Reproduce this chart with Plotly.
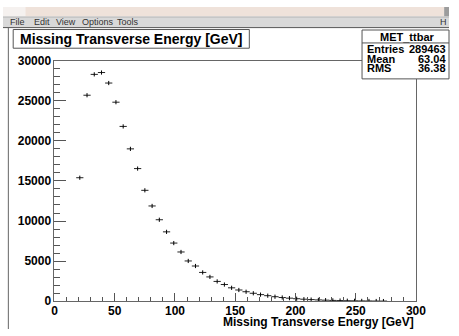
import plotly.graph_objects as go

# ---- data ----
bin_centers = [21, 27, 33, 39, 45, 51, 57, 63, 69, 75, 81, 87, 93, 99, 105, 111, 117, 123,
               129, 135, 141, 147, 153, 159, 165, 171, 177, 183, 189, 195, 201, 207, 213,
               219, 225, 231, 237, 243, 249, 255, 261, 267, 273]
counts = [15400, 25690, 28290, 28520, 27210, 24820, 21800, 19000, 16540, 13830, 11880,
          10160, 8650, 7250, 6140, 5020, 4390, 3590, 3030, 2470, 2080, 1670, 1400, 1180,
          990, 820, 690, 560, 460, 380, 310, 250, 200, 160, 130, 100, 80, 60, 48, 38, 30,
          22, 16]
half_width = [3] * len(bin_centers)
x_ticks = [0, 50, 100, 150, 200, 250, 300]
y_ticks = [0, 5000, 10000, 15000, 20000, 25000, 30000]
title_text = "Missing Transverse Energy [GeV]"
xaxis_title = "Missing Transverse Energy [GeV]"
stats_name = "MET_ttbar"
stats_rows = [("Entries", "289463"), ("Mean", "63.04"), ("RMS", "36.38")]
menu_items = [("File", 5), ("Edit", 30), ("View", 53), ("Options", 79), ("Tools", 115)]

W, H = 459, 336
FONT = "Liberation Sans, Arial, Helvetica, sans-serif"


def px(x):
    return min(max(x / W, 0), 1)


def py(y):
    return min(max(1 - y / H, 0), 1)


fig = go.Figure()
fig.add_trace(go.Scatter(
    x=bin_centers, y=counts, mode="markers",
    marker=dict(symbol="line-ns", size=3, color="black", line=dict(width=1, color="black")),
    error_x=dict(type="data", array=half_width, symmetric=True, width=0, thickness=1, color="#222222"),
    hoverinfo="x+y",
))


def rect(x0, y0, x1, y1, fill, line_color=None, lw=0):
    return dict(type="rect", xref="paper", yref="paper", x0=px(x0), x1=px(x1), y0=py(y1), y1=py(y0),
                fillcolor=fill, line=dict(width=lw, color=line_color or fill), layer="above")


def hline(x0, x1, y, color, lw=1):
    return dict(type="line", xref="paper", yref="paper", x0=px(x0), x1=px(x1), y0=py(y), y1=py(y),
                line=dict(width=lw, color=color), layer="above")


shapes = [
    rect(0, 0, 23, 10, "#f5f1ef"),
    rect(23, 0, 454, 10, "#efe2da"),
    rect(454, 0, 459, 10, "#9c9c9c"),
    rect(0, 10, 459, 21, "#d9d9d9"),
    hline(0, 459, 10.5, "#b8b8b8"),
    hline(0, 459, 21.5, "#555555"),
    dict(type="line", xref="paper", yref="paper", x0=px(5.5), x1=px(5.5), y0=py(336), y1=py(21.5),
         line=dict(width=1, color="#666666"), layer="above"),
    rect(10.5, 23.5, 253.5, 43, "white", "#555555", 1),
    rect(369.5, 24, 459, 75, "white", "#555555", 1),
    hline(369.5, 459, 37.5, "#555555"),
]

annotations = []
for name, x0 in menu_items:
    annotations.append(dict(xref="paper", yref="paper", x=px(x0), y=py(15.5), xanchor="left", yanchor="middle",
                            text=name, showarrow=False, font=dict(family=FONT, size=9, color="#333333")))
annotations.append(dict(xref="paper", yref="paper", x=px(459), y=py(15.5), xanchor="right", yanchor="middle",
                        text="H", showarrow=False, font=dict(family=FONT, size=9, color="#333333")))
annotations.append(dict(xref="paper", yref="paper", x=px(132), y=py(33), xanchor="center", yanchor="middle",
                        text="<b>" + title_text + "</b>", showarrow=False,
                        font=dict(family=FONT, size=14, color="black")))
annotations.append(dict(xref="paper", yref="paper", x=px(416), y=py(31), xanchor="center", yanchor="middle",
                        text="<b>" + stats_name + "</b>", showarrow=False,
                        font=dict(family=FONT, size=11, color="black")))
row_y = [44, 54, 63.5]
for (lab, val), yy in zip(stats_rows, row_y):
    annotations.append(dict(xref="paper", yref="paper", x=px(373), y=py(yy), xanchor="left", yanchor="middle",
                            text="<b>" + lab + "</b>", showarrow=False,
                            font=dict(family=FONT, size=11, color="black")))
    annotations.append(dict(xref="paper", yref="paper", x=px(458), y=py(yy), xanchor="right", yanchor="middle",
                            text="<b>" + val + "</b>", showarrow=False,
                            font=dict(family=FONT, size=11, color="black")))
annotations.append(dict(xref="paper", yref="paper", x=px(425), y=py(329), xanchor="right", yanchor="middle",
                        text="<b>" + xaxis_title + "</b>", showarrow=False,
                        font=dict(family=FONT, size=12, color="black")))

fig.update_layout(
    width=W, height=H, margin=dict(l=0, r=0, t=0, b=0),
    paper_bgcolor="white", plot_bgcolor="white", showlegend=False,
    shapes=shapes, annotations=annotations,
    xaxis=dict(range=[0, 300], domain=[px(53), px(425)], tickvals=x_ticks, ticktext=[str(v) for v in x_ticks],
               ticks="inside", ticklen=8, tickcolor="#555555", tickwidth=1, ticklabelstandoff=-2,
               showline=True, linecolor="#666666", linewidth=1, mirror=True,
               showgrid=False, zeroline=False,
               minor=dict(dtick=10, ticks="inside", ticklen=4, tickcolor="#555555", showgrid=False),
               tickfont=dict(family=FONT, size=12, color="black", weight="bold")),
    yaxis=dict(range=[0, 30000], domain=[py(307), py(56)], tickvals=y_ticks, ticktext=[str(v) for v in y_ticks],
               ticks="inside", ticklen=12, tickcolor="#555555", tickwidth=1,
               showline=True, linecolor="#666666", linewidth=1, mirror=True,
               showgrid=False, zeroline=False,
               minor=dict(dtick=1000, ticks="inside", ticklen=6, tickcolor="#555555", showgrid=False),
               tickfont=dict(family=FONT, size=12, color="black", weight="bold")),
)

fig.write_html(
    "out.html",
    config={"displayModeBar": False},
    post_script="document.body.style.margin='0';document.body.style.overflow='hidden';"
                "document.documentElement.style.overflow='hidden';",
)
